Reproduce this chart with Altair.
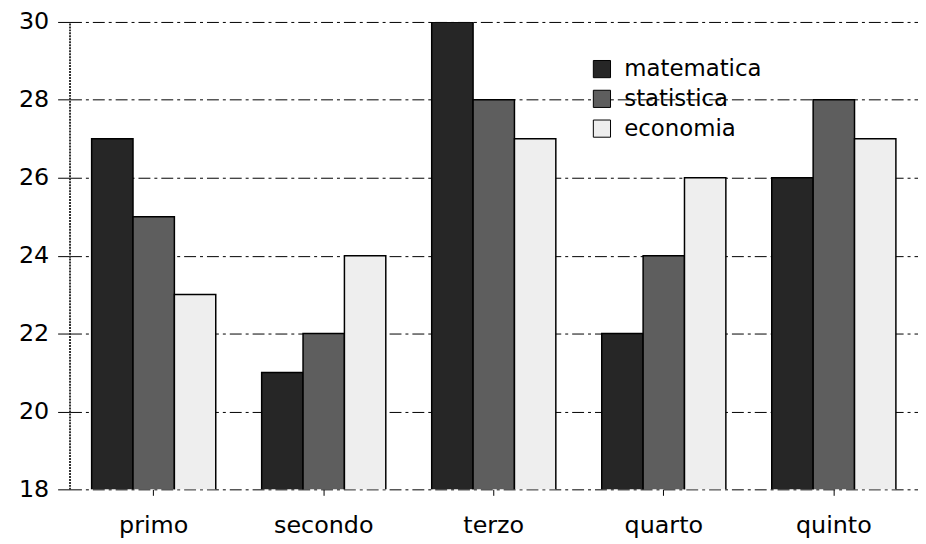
import altair as alt
import pandas as pd

categories = ["primo", "secondo", "terzo", "quarto", "quinto"]
series = ["matematica", "statistica", "economia"]
matematica = [27, 21, 30, 22, 26]
statistica = [25, 22, 28, 24, 28]
economia = [23, 24, 27, 26, 27]
y_ticks = [18, 20, 22, 24, 26, 28, 30]
colors = ["#262626", "#5e5e5e", "#eeeeee"]

rows = []
for i, c in enumerate(categories):
    for s, vals in zip(series, [matematica, statistica, economia]):
        rows.append({"categoria": c, "materia": s, "valore": vals[i]})
df = pd.DataFrame(rows)

font = "DejaVu Sans"

chart = alt.Chart(df).mark_bar(
    stroke="black", strokeWidth=1.5, clip=True
).encode(
    x=alt.X("categoria:N", sort=categories, title=None,
            scale=alt.Scale(paddingInner=0.27, paddingOuter=0.13),
            axis=alt.Axis(labelAngle=0, labelFontSize=24, labelFont=font,
                          labelColor="black", labelPadding=18,
                          domain=False, ticks=True, tickSize=6,
                          tickColor="black", grid=False)),
    xOffset=alt.XOffset("materia:N", sort=series),
    y=alt.Y("valore:Q", title=None,
            scale=alt.Scale(domain=[18, 30], nice=False, zero=False),
            axis=alt.Axis(values=y_ticks, labelFontSize=24, labelFont=font,
                          labelColor="black", labelPadding=9,
                          tickSize=12, tickColor="black",
                          domain=True, domainColor="#333333",
                          domainDash=[2, 1], domainWidth=2,
                          grid=True, gridColor="black", gridWidth=1,
                          gridDash=[12, 4, 3, 4], gridOpacity=1)),
    color=alt.Color("materia:N", sort=series,
                    scale=alt.Scale(domain=series, range=colors),
                    legend=alt.Legend(title=None, orient="none",
                                      legendX=525, legendY=36,
                                      symbolType="square", symbolSize=300,
                                      symbolStrokeColor="black",
                                      symbolStrokeWidth=1,
                                      symbolOpacity=1,
                                      labelFontSize=23, labelFont=font,
                                      labelColor="black", labelOffset=11,
                                      rowPadding=6, padding=0)),
).properties(
    width=855, height=471,
    autosize=alt.AutoSizeParams(type="none"),
    padding={"left": 62, "top": 12, "right": 0, "bottom": 50},
).configure_view(stroke=None)

chart.save("out.html", embed_options={"renderer": "svg", "actions": False})
